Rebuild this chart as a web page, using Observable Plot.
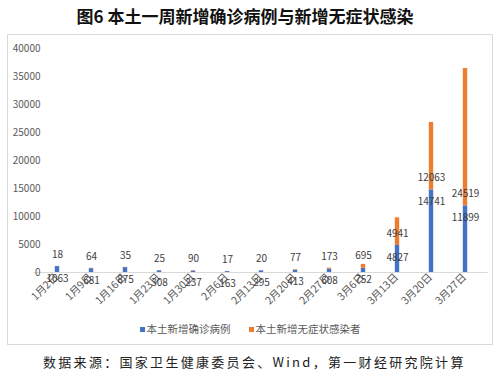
<!DOCTYPE html>
<html><head><meta charset="utf-8">
<script src="https://cdn.jsdelivr.net/npm/d3@7"></script>
<script src="https://cdn.jsdelivr.net/npm/@observablehq/plot@0.6"></script>
<style>
body{margin:0;background:#fff;font-family:"Noto Sans CJK SC",sans-serif;width:500px;height:381px;overflow:hidden;position:relative}
#title{position:absolute;left:0;top:0;width:490px;height:32px;line-height:32px;text-align:center;font-weight:bold;font-size:17px;color:#111;font-family:"Noto Sans CJK SC",serif}
#box{position:absolute;left:7px;top:34px;width:484px;height:309px;border:1px solid #d9d9d9;background:#fff}
#chart{position:absolute;left:0;top:0}
#chart svg{overflow:visible}
#legend{position:absolute;left:0;top:287px;width:484px;display:flex;justify-content:center;gap:18px;font-size:10.5px;color:#595959;line-height:14px}
#legend span.sw{display:inline-block;width:5px;height:5px;margin-right:2px;vertical-align:middle;position:relative;top:-1px}
#caption{position:absolute;left:43px;top:350px;height:24px;line-height:24px;font-size:13px;letter-spacing:2.3px;color:#222;white-space:nowrap}
</style></head>
<body>
<div id="title">图6 本土一周新增确诊病例与新增无症状感染</div>
<div id="box"><div id="chart"></div><div id="legend"></div></div>
<div id="caption">数据来源：国家卫生健康委员会、Wind，第一财经研究院计算</div>
<script>
const dates = ["1月2日","1月9日","1月16日","1月23日","1月30日","2月6日","2月13日","2月20日","2月27日","3月6日","3月13日","3月20日","3月27日"];
const confirmed = [1063,681,875,308,237,163,295,413,608,752,4827,14741,11899];
const asymptomatic = [18,64,35,25,90,17,20,77,173,695,4941,12063,24519];
const seriesNames = ["本土新增确诊病例","本土新增无症状感染者"];
const seriesColors = ["#4472C4","#ED7D31"];
const yTicks = [0,5000,10000,15000,20000,25000,30000,35000,40000];

const rows = [];
dates.forEach((d,i)=>{
  rows.push({date:d, series:seriesNames[0], value:confirmed[i]});
  rows.push({date:d, series:seriesNames[1], value:asymptomatic[i]});
});

const chart = Plot.plot({
  width:484, height:284,
  marginTop:13, marginBottom:47, marginLeft:25.5, marginRight:4.5,
  style:{fontFamily:"'Noto Sans CJK SC', sans-serif", fontSize:"10px", color:"#595959", background:"transparent", overflow:"visible"},
  x:{domain:dates, padding:0, label:null},
  y:{domain:[0,40000], label:null},
  color:{domain:seriesNames, range:seriesColors},
  marks:[
    Plot.ruleY([0],{stroke:"#d9d9d9"}),
    Plot.barY(rows,{x:"date", y:"value", fill:"series", insetLeft:14.8, insetRight:14.8}),
    Plot.axisY({ticks:yTicks, tickSize:0, tickPadding:0, dx:6.5, tickFormat:d3.format("d"), fontSize:10, label:null}),
    Plot.axisX({tickSize:0, tickRotate:-45, tickPadding:3, dx:-1, fontSize:10.5, label:null}),
    Plot.text(dates,{x:d=>d, y:(d,i)=>confirmed[i], text:(d,i)=>String(confirmed[i]), dy:12, fill:"#404040", fontSize:10}),
    Plot.text(dates,{x:d=>d, y:(d,i)=>confirmed[i], text:(d,i)=>String(asymptomatic[i]), dy:-12, fill:"#404040", fontSize:10})
  ]
});
document.getElementById("chart").appendChild(chart);

const leg = document.getElementById("legend");
seriesNames.forEach((n,i)=>{
  const item = document.createElement("div");
  const sw = document.createElement("span");
  sw.className = "sw";
  sw.style.background = chart.scale("color").apply(n);
  item.appendChild(sw);
  item.appendChild(document.createTextNode(n));
  leg.appendChild(item);
});
</script>
</body></html>
